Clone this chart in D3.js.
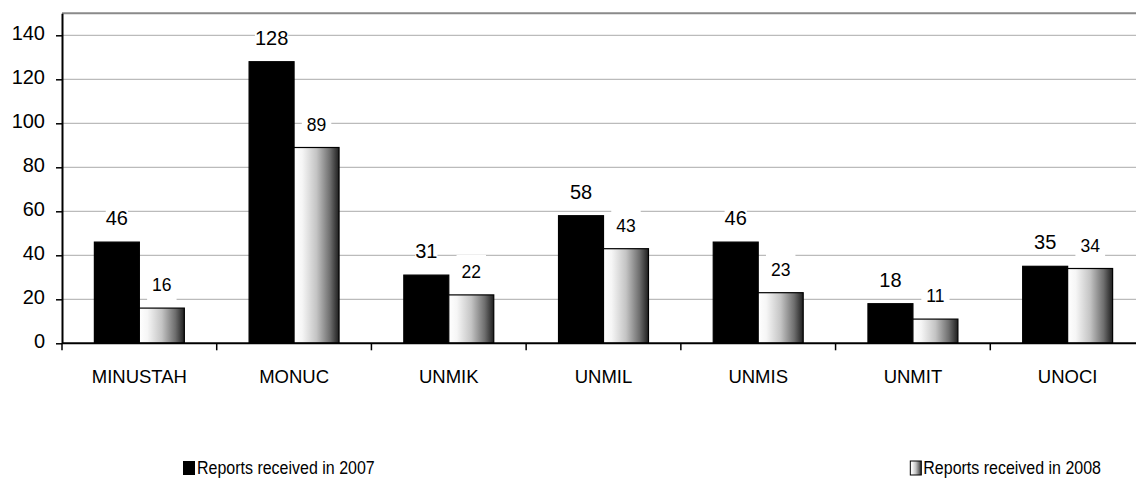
<!DOCTYPE html>
<html>
<head>
<meta charset="utf-8">
<script src="https://cdn.jsdelivr.net/npm/d3@7"></script>
<style>
  html, body { margin: 0; padding: 0; background: #fff; overflow: hidden; }
  svg { display: block; }
  text { font-family: "Liberation Sans", Arial, sans-serif; fill: #000; }
</style>
</head>
<body>
<svg id="chart" width="1136" height="479"></svg>
<script>
const categories = ["MINUSTAH", "MONUC", "UNMIK", "UNMIL", "UNMIS", "UNMIT", "UNOCI"];
const reports2007 = [46, 128, 31, 58, 46, 18, 35];
const reports2008 = [16, 89, 22, 43, 23, 11, 34];
const seriesNames = ["Reports received in 2007", "Reports received in 2008"];
const yTickValues = [0, 20, 40, 60, 80, 100, 120, 140];

(function () {
const svg = d3.select("#chart");
const W = 1136;
const mLeft = 62, mRight = 1145, mTop = 13.3, mBottom = 343.3;

const defs = svg.append("defs");
const grad = defs.append("linearGradient").attr("id", "g2008")
  .attr("x1", "0%").attr("x2", "100%").attr("y1", "0%").attr("y2", "0%");
[[0, "#ffffff"], [0.18, "#f6f6f6"], [0.5, "#c4c4c4"], [0.8, "#6e6e6e"], [1, "#1e1e1e"]]
  .forEach(([o, c]) => grad.append("stop").attr("offset", o).attr("stop-color", c));

const x = d3.scaleBand().domain(categories).range([mLeft, mRight]).paddingInner(0).paddingOuter(0);
const x1 = d3.scaleBand().domain([0, 1]).range([0, x.bandwidth()]).paddingInner(0).paddingOuter(0.72);
const y = d3.scaleLinear().domain([0, 150]).range([mBottom, mTop]);

// gridlines
svg.append("g").selectAll("line").data(yTickValues.filter(v => v > 0)).join("line")
  .attr("x1", mLeft).attr("x2", W).attr("y1", d => y(d)).attr("y2", d => y(d))
  .attr("stroke", "#ababab").attr("stroke-width", 1);
// top border
svg.append("line").attr("x1", mLeft).attr("x2", W).attr("y1", y(150)).attr("y2", y(150))
  .attr("stroke", "#8a8a8a").attr("stroke-width", 2);

const data = categories.map((c, i) => ({ c, vals: [reports2007[i], reports2008[i]] }));

// bars
const groups = svg.append("g").selectAll("g").data(data).join("g")
  .attr("transform", d => `translate(${x(d.c)},0)`);
groups.selectAll("rect").data(d => d.vals.map((v, k) => ({ v, k }))).join("rect")
  .attr("x", d => x1(d.k)).attr("width", x1.bandwidth())
  .attr("y", d => y(d.v)).attr("height", d => y(0) - y(d.v))
  .attr("fill", d => d.k === 0 ? "#000" : "url(#g2008)")
  .attr("stroke", "#000").attr("stroke-width", 1.2);

// labels
const labelSizes = [20, 17.5];
const lbls = groups.selectAll("g.lbl").data(d => d.vals.map((v, k) => ({ v, k }))).join("g").attr("class", "lbl");
lbls.each(function (d) {
  const g = d3.select(this);
  const cx = x1(d.k) + x1.bandwidth() / 2;
  const base = y(d.v) - 17;
  const t = g.append("text").attr("x", cx).attr("y", base).attr("text-anchor", "middle")
    .style("font-size", labelSizes[d.k] + "px").text(d.v);
  const bb = t.node().getBBox();
  const ph = d.k === 0 ? 0 : 5, pv = d.k === 0 ? 0 : 7;
  g.insert("rect", "text").attr("x", bb.x - ph).attr("y", bb.y - pv)
    .attr("width", bb.width + 2 * ph).attr("height", bb.height + 2 * pv).attr("fill", "#fff");
});

// y axis
const yAxis = svg.append("g").attr("transform", `translate(${mLeft},0)`)
  .call(d3.axisLeft(y).tickValues(yTickValues).tickSize(6).tickPadding(11).tickSizeOuter(0));
yAxis.select(".domain").attr("stroke", "#000").attr("stroke-width", 2);
yAxis.selectAll(".tick line").attr("stroke", "#000").attr("stroke-width", 1.5);
yAxis.selectAll(".tick text").style("font-size", "20px").attr("dy", "0.22em")
  .style("font-family", "'Liberation Sans', Arial, sans-serif").attr("fill", "#000");

// x axis
const xAxis = svg.append("g").attr("transform", `translate(0,${mBottom})`)
  .call(d3.axisBottom(x).tickSize(0).tickPadding(27).tickSizeOuter(0));
xAxis.select(".domain").remove();
xAxis.selectAll(".tick text").style("font-size", "18.5px")
  .style("font-family", "'Liberation Sans', Arial, sans-serif").attr("fill", "#000");
svg.append("line").attr("x1", mLeft).attr("x2", W).attr("y1", mBottom).attr("y2", mBottom)
  .attr("stroke", "#000").attr("stroke-width", 2);
const boundaries = categories.map(c => x(c));
svg.append("g").selectAll("line").data(boundaries).join("line")
  .attr("x1", d => d).attr("x2", d => d).attr("y1", mBottom).attr("y2", mBottom + 7)
  .attr("stroke", "#000").attr("stroke-width", 1.5);

// legend
const legendY = 474;
const lg1 = svg.append("g");
lg1.append("rect").attr("x", 183).attr("y", 461).attr("width", 12).attr("height", 14).attr("fill", "#000");
lg1.append("text").attr("transform", `translate(197,${legendY}) scale(1,1.12)`)
  .style("font-size", "16px").text(seriesNames[0]);

const lg2 = svg.append("g");
const t2 = lg2.append("text").attr("transform", `translate(1101,${legendY}) scale(1,1.12)`)
  .attr("text-anchor", "end").style("font-size", "16px").text(seriesNames[1]);
const w2 = t2.node().getComputedTextLength();
lg2.append("rect").attr("x", 1101 - w2 - 13).attr("y", 461).attr("width", 11).attr("height", 14)
  .attr("fill", "url(#g2008)").attr("stroke", "#000").attr("stroke-width", 1);
})();
</script>
</body>
</html>
